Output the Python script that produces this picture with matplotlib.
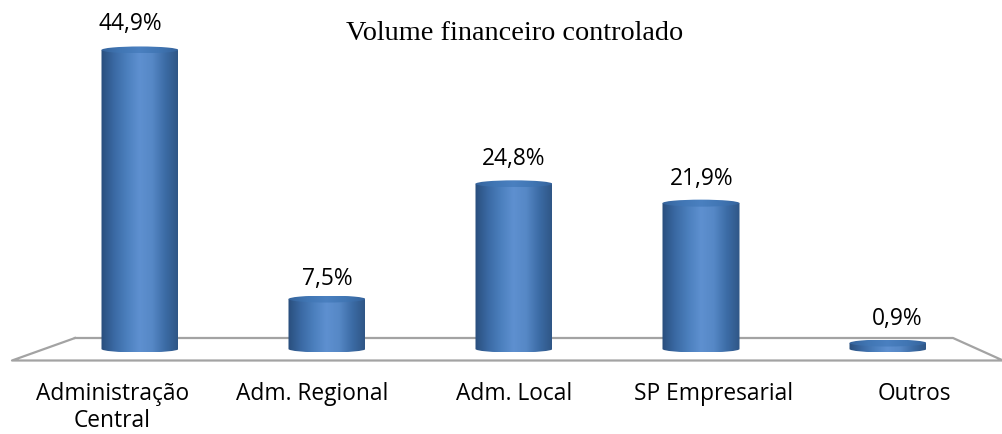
import numpy as np
import matplotlib
matplotlib.use("Agg")
import matplotlib.pyplot as plt
from matplotlib.colors import LinearSegmentedColormap
from matplotlib.patches import Ellipse, PathPatch
from matplotlib.path import Path

# Dados do gráfico
categorias = ["Administração\nCentral", "Adm. Regional", "Adm. Local", "SP Empresarial", "Outros"]
valores = [44.9, 7.5, 24.8, 21.9, 0.9]
rotulos = ["44,9%", "7,5%", "24,8%", "21,9%", "0,9%"]
titulo = "Volume financeiro controlado"

# Deslocamento dos rótulos em pixels (x, y) em relação ao topo de cada barra
desloc_x = [-10, 0, 0, 1, 9]
desloc_y = [26, 20, 25, 24, 24]
# Os nomes das categorias não ficam centrados nas barras (pixels em x)
desloc_cat = [-27.5, -14.5, 0, 12.5, 26.5]

largura_fig, altura_fig = 1003, 434
px_x = 187.0   # pixels entre categorias
px_y = 6.66    # pixels por ponto percentual
x0, y0 = 140.0, 349.0  # pixel da primeira categoria / do zero
meia_larg = 38.5 / px_x
meia_alt = 3.5 / px_y

fig = plt.figure(figsize=(largura_fig / 100, altura_fig / 100), dpi=100)
ax = fig.add_axes([0, 0, 1, 1])
ax.patch.set_visible(False)
for lado in ["top", "left", "right", "bottom"]:
    ax.spines[lado].set_visible(False)
ax.spines["bottom"].set_position(("data", 0))
ax.set_yticks([])

# Piso em perspectiva
cor_piso = "#a3a3a3"
piso_x = np.array([75, 953, 1003, 12, 75]) / largura_fig
piso_y = 1 - np.array([338, 338, 360.5, 360.5, 338]) / altura_fig
ax.plot(piso_x, piso_y, transform=ax.transAxes, color=cor_piso, lw=1.6, zorder=1, clip_on=False)

# Cilindros com gradiente horizontal
cmap_corpo = LinearSegmentedColormap.from_list(
    "corpo", ["#294e7c", "#3a69a3", "#4b7fbd", "#5e90d0", "#5688c6", "#3c6ca6", "#2f5686"])
cmap_topo = LinearSegmentedColormap.from_list(
    "topo", ["#35639c", "#4176b4", "#4a80c0", "#4176b4", "#35639c"])
grad = np.linspace(0, 1, 256).reshape(1, -1)

for i, v in enumerate(valores):
    esq, dir_ = i - meia_larg, i + meia_larg
    k = 0.5523
    verts = [(esq, v), (esq, 0),
             (esq, -meia_alt * k), (i - meia_larg * k, -meia_alt), (i, -meia_alt),
             (i + meia_larg * k, -meia_alt), (dir_, -meia_alt * k), (dir_, 0),
             (dir_, v), (esq, v)]
    cods = [Path.MOVETO, Path.LINETO, Path.CURVE4, Path.CURVE4, Path.CURVE4,
            Path.CURVE4, Path.CURVE4, Path.CURVE4, Path.LINETO, Path.CLOSEPOLY]
    corpo = PathPatch(Path(verts, cods), fc="none", ec="none", zorder=2)
    ax.add_patch(corpo)
    im = ax.imshow(grad, cmap=cmap_corpo, aspect="auto", zorder=2,
                   extent=(esq, dir_, -meia_alt, v), interpolation="bilinear")
    im.set_clip_path(corpo)

    topo = Ellipse((i, v), 2 * meia_larg, 2 * meia_alt, fc="none", ec="none", zorder=3)
    ax.add_patch(topo)
    im2 = ax.imshow(grad, cmap=cmap_topo, aspect="auto", zorder=3,
                    extent=(esq, dir_, v - meia_alt, v + meia_alt), interpolation="bilinear")
    im2.set_clip_path(topo)

    ax.annotate(rotulos[i], (i, v), xytext=(desloc_x[i] * 0.72, desloc_y[i] * 0.72),
                textcoords="offset points", ha="center", va="center",
                fontsize=16.4, family="Open Sans", color="black")

# imshow mexe nos limites, então define depois
ax.set_xlim(-x0 / px_x, (largura_fig - x0) / px_x)
ax.set_ylim((y0 - altura_fig) / px_y, y0 / px_y)

pos_cat = [i + d / px_x for i, d in enumerate(desloc_cat)]
ax.set_xticks(pos_cat)
ax.set_xticklabels(categorias, fontsize=16.4, family="Open Sans", linespacing=1.15)
ax.tick_params(axis="x", length=0, pad=24, colors="black")

fig.text(515 / largura_fig, 1 - 34 / altura_fig, titulo, ha="center", va="center",
         fontsize=20.3, family="Liberation Serif", color="black")

fig.savefig("out.png", dpi=100)
